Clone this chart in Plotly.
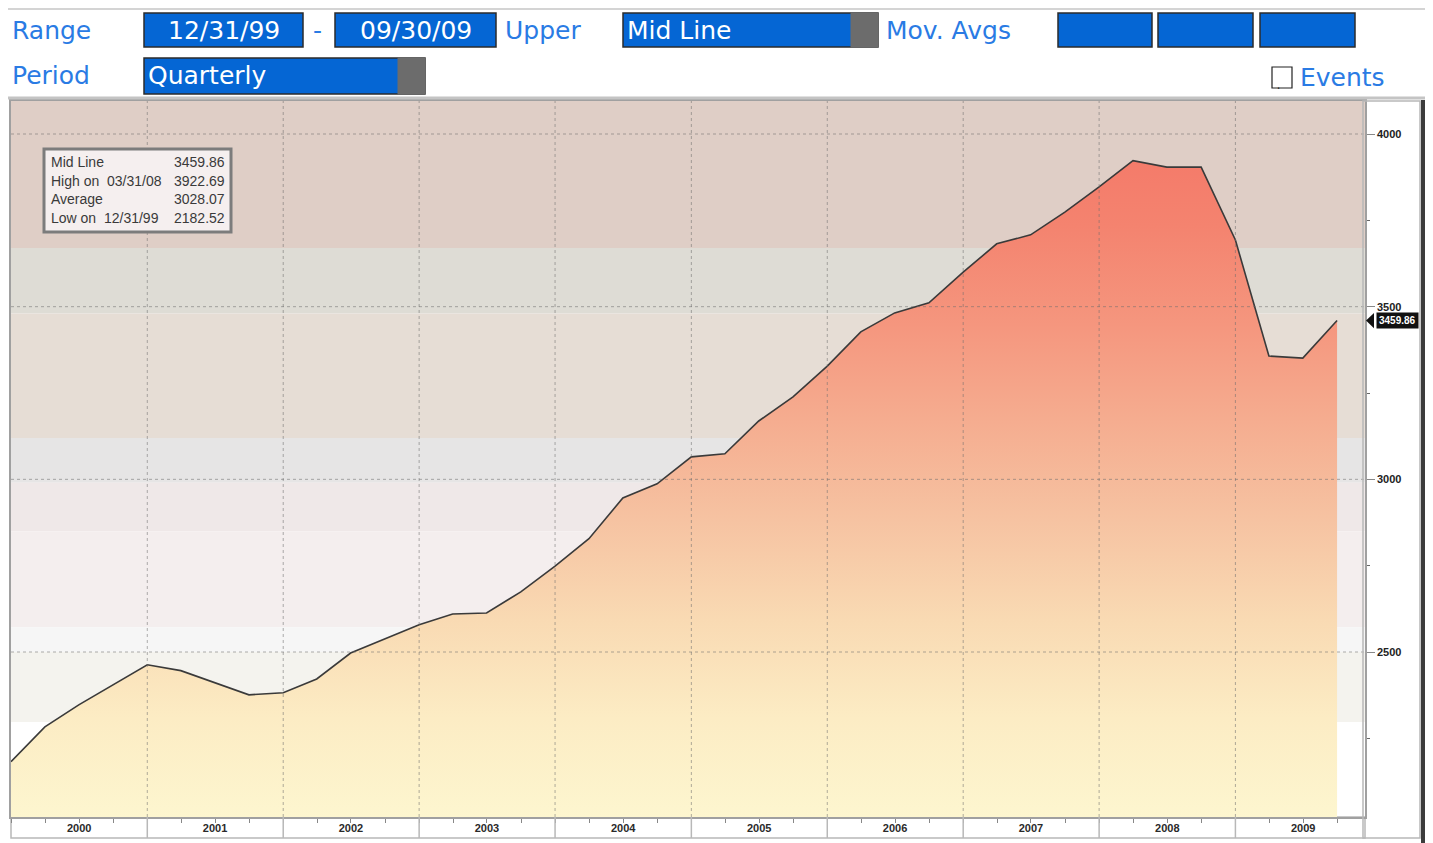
import pandas as pd
import plotly.graph_objects as go

# quarterly "Mid Line" values, 12/31/99 .. 09/30/09
quarters = pd.date_range("1999-12-31", periods=40, freq=pd.offsets.QuarterEnd())
mid_line = [
    2182.52, 2283, 2347, 2405, 2463, 2446, 2411, 2376, 2382, 2422,
    2497, 2538, 2579, 2610, 2613, 2674, 2749, 2828, 2946, 2987,
    3065, 3074, 3169, 3239, 3328, 3427, 3482, 3511, 3600, 3682,
    3708, 3774, 3847, 3922.69, 3904, 3904, 3693, 3357, 3351, 3459.86,
]

years = list(range(2000, 2010))
y_ticks = [2500, 3000, 3500, 4000]

stat_labels = ["Mid Line", "High on  03/31/08", "Average", "Low on  12/31/99"]
stat_values = ["3459.86", "3922.69", "3028.07", "2182.52"]

# background bands (value ranges) behind the chart
band_edges = [4100, 3670, 3480, 3120, 2990, 2850, 2572, 2500, 2297, 2000]
band_colors = ["#dfcec6", "#dedcd5", "#e6ddd5", "#e6e5e5", "#efe8e8",
               "#f4eeee", "#f6f6f6", "#f4f3ee", "#ffffff"]

# the page body has an 8px margin, so the figure is a bit smaller than the window
PAGE = 8
W, H = 1433 - PAGE, 843 - PAGE
# plot area, in window pixels
L, R, T, B = 11, 1365, 101, 817


def fx(px):
    return (px - L) / (R - L)


def fy(py):
    return (B - py) / (B - T)


BLUE_TXT = "#2a7be4"
BOX_BLUE = "#0566d4"
HDR_FONT = "DejaVu Sans"

fig = go.Figure()

fig.add_trace(go.Scatter(
    x=quarters, y=mid_line, mode="lines",
    line=dict(color="#3a3a3a", width=1.6),
    fill="tozeroy",
    fillgradient=dict(
        type="vertical", start=2022, stop=3925,
        colorscale=[
            [0.0, "#fdf6cf"], [0.15, "#fcecc4"], [0.3, "#f9dab3"],
            [0.45, "#f6c3a2"], [0.6, "#f5ad90"], [0.75, "#f5967e"],
            [0.9, "#f4836f"], [1.0, "#f47b6a"],
        ],
    ),
    hoverinfo="x+y", showlegend=False,
))

shapes = []
# bands
for top, bot, col in zip(band_edges[:-1], band_edges[1:], band_colors):
    shapes.append(dict(type="rect", xref="x domain", yref="y", x0=0, x1=1,
                       y0=bot, y1=top, fillcolor=col, line_width=0, layer="below"))
# grid (drawn over the fill)
for v in y_ticks:
    shapes.append(dict(type="line", xref="x domain", yref="y", x0=0, x1=1, y0=v, y1=v,
                       line=dict(color="rgba(110,110,110,0.55)", width=1, dash="dot"),
                       layer="above"))
for yr in years[1:]:
    d = f"{yr - 1}-12-31"
    shapes.append(dict(type="line", xref="x", yref="paper", x0=d, x1=d, y0=0, y1=1,
                       line=dict(color="rgba(110,110,110,0.55)", width=1, dash="dot"),
                       layer="above"))
# x label strip
shapes.append(dict(type="rect", xref="paper", yref="paper", x0=0, x1=1, y0=fy(838), y1=0,
                   fillcolor="white", line=dict(color="#b8b8b8", width=1.5), layer="below"))
for yr in years[1:]:
    d = f"{yr - 1}-12-31"
    shapes.append(dict(type="line", xref="x", yref="paper", x0=d, x1=d, y0=fy(838), y1=0,
                       line=dict(color="#b8b8b8", width=1.5)))
# right axis panel + dark bar
shapes.append(dict(type="rect", xref="paper", yref="paper", x0=fx(1363), x1=fx(1420),
                   y0=fy(838), y1=fy(101), line=dict(color="#b8b8b8", width=1.5),
                   fillcolor="rgba(0,0,0,0)"))
shapes.append(dict(type="rect", xref="paper", yref="paper", x0=fx(1421), x1=fx(1433),
                   y0=fy(843), y1=fy(100), line_width=0, fillcolor="#3c3c3c"))
# header separators
shapes.append(dict(type="line", xref="paper", yref="paper", x0=fx(0), x1=fx(1433),
                   y0=fy(9), y1=fy(9), line=dict(color="#d4d4d4", width=2)))
shapes.append(dict(type="line", xref="paper", yref="paper", x0=fx(0), x1=fx(1433),
                   y0=fy(98), y1=fy(98), line=dict(color="#c4c4c4", width=3)))

annotations = []


def box(x0, x1, y0, y1, text="", grey_from=None, left=False):
    shapes.append(dict(type="rect", xref="paper", yref="paper", x0=fx(x0), x1=fx(x1),
                       y0=fy(y1), y1=fy(y0), fillcolor=BOX_BLUE,
                       line=dict(color="#2b2b2b", width=1.5)))
    if grey_from is not None:
        shapes.append(dict(type="rect", xref="paper", yref="paper", x0=fx(grey_from),
                           x1=fx(x1), y0=fy(y1), y1=fy(y0), fillcolor="#6c6c6c",
                           line=dict(color="#6c6c6c", width=1)))
    if text:
        annotations.append(dict(
            xref="paper", yref="paper",
            x=fx(x0 + 2) if left else fx((x0 + x1) / 2), y=fy((y0 + y1) / 2),
            xanchor="left" if left else "center", yanchor="middle", showarrow=False,
            text=text, font=dict(family=HDR_FONT, size=25, color="white")))


def label(x, y, text, size=25):
    annotations.append(dict(xref="paper", yref="paper", x=fx(x), y=fy(y),
                            xanchor="left", yanchor="middle", showarrow=False,
                            text=text, font=dict(family=HDR_FONT, size=size, color=BLUE_TXT)))


label(10, 30, "Range")
box(144, 303, 13, 47, "12/31/99")
label(311, 30, "-")
box(335, 496, 13, 47, "09/30/09")
label(503, 30, "Upper")
box(623, 878, 13, 47, "Mid Line", grey_from=851, left=True)
label(884, 30, "Mov. Avgs")
box(1058, 1152, 13, 47)
box(1158, 1253, 13, 47)
box(1260, 1355, 13, 47)
label(10, 76, "Period")
box(144, 425, 58, 94, "Quarterly", grey_from=398, left=True)
shapes.append(dict(type="rect", xref="paper", yref="paper", x0=fx(1272), x1=fx(1292),
                   y0=fy(88), y1=fy(67), fillcolor="white", line=dict(color="#222", width=1.2)))
annotations.append(dict(xref="paper", yref="paper", x=fx(1282), y=fy(78), text="·",
                        showarrow=False, font=dict(size=12, color="#222")))
label(1298, 78, "Events")

# stats box
shapes.append(dict(type="rect", xref="paper", yref="paper", x0=fx(44), x1=fx(231),
                   y0=fy(232), y1=fy(149), fillcolor="#f5efef",
                   line=dict(color="#7c7c7c", width=3)))
for i, (lab, val) in enumerate(zip(stat_labels, stat_values)):
    yy = fy(162 + i * 18.5)
    annotations.append(dict(xref="paper", yref="paper", x=fx(49), y=yy, xanchor="left",
                            yanchor="middle", showarrow=False, text=lab.replace(" ", "&nbsp;"),
                            font=dict(family="Liberation Sans Narrow, Liberation Sans",
                                      size=14, color="#3a3a3a")))
    annotations.append(dict(xref="paper", yref="paper", x=fx(227), y=yy, xanchor="right",
                            yanchor="middle", showarrow=False, text=val,
                            font=dict(family="Liberation Sans Narrow, Liberation Sans",
                                      size=14, color="#3a3a3a")))

# last value callout with a small pointer toward the axis
shapes.append(dict(type="path", xref="paper", yref="y",
                   path=f"M {fx(1366)},{mid_line[-1]} L {fx(1374)},{mid_line[-1] + 22} "
                        f"L {fx(1374)},{mid_line[-1] - 22} Z",
                   fillcolor="#111111", line_width=0))
annotations.append(dict(xref="paper", yref="y", x=fx(1397), y=mid_line[-1],
                        xanchor="center", yanchor="middle", showarrow=False,
                        text=f"{mid_line[-1]:.2f}", bgcolor="#111111", borderpad=2,
                        font=dict(family="Liberation Sans", size=10, color="white",
                                  weight=700)))

fig.update_layout(
    width=W, height=H,
    margin=dict(l=L - PAGE, r=(1433 - R), t=T - PAGE, b=H - (B - PAGE), autoexpand=False),
    paper_bgcolor="white", plot_bgcolor="white",
    shapes=shapes, annotations=annotations,
    showlegend=False,
    xaxis=dict(
        range=["1999-12-31", "2009-12-14"],
        tickvals=[f"{y}-07-01" for y in years], ticktext=[str(y) for y in years],
        ticks="", showgrid=False, zeroline=False,
        showline=True, linecolor="#a0a0a0", linewidth=1.5, mirror=True,
        tickfont=dict(family="Liberation Sans Narrow, Liberation Sans", size=11,
                      color="#2a2a2a", weight=700),
        minor=dict(ticks="outside", ticklen=4, dtick="M3", tick0="2000-01-01",
                   tickcolor="#888", showgrid=False),
    ),
    yaxis=dict(
        side="right", range=[2022.2, 4095.6],
        tickvals=y_ticks, ticks="outside", ticklen=8, tickcolor="#888",
        showgrid=False, zeroline=False,
        showline=True, linecolor="#a0a0a0", linewidth=1.5, mirror=True,
        tickfont=dict(family="Liberation Sans", size=11, color="#222", weight=700),
        minor=dict(ticks="outside", ticklen=3, dtick=250, tickcolor="#666", showgrid=False),
    ),
)

fig.write_html("out.html")
